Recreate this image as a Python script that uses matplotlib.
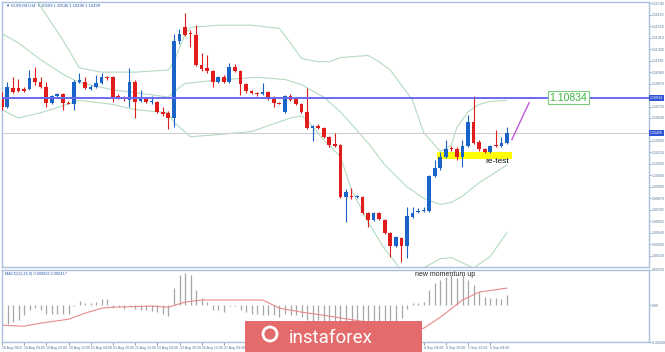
import matplotlib
matplotlib.use("Agg")
import matplotlib.pyplot as plt
import matplotlib.transforms as mtransforms
from matplotlib.patches import Rectangle, Circle

plt.rcParams['font.family'] = ['Liberation Sans', 'DejaVu Sans']

# EURUSD H4 candles, 16 Aug 12:00 .. 6 Sep 16:00
opens = [1.1084, 1.1075, 1.1093, 1.1093, 1.1092, 1.1092, 1.1102, 1.1099, 1.1094, 1.1078,
         1.1085, 1.1087, 1.1078, 1.1077, 1.1099, 1.1099, 1.1092, 1.1094, 1.1098, 1.1103,
         1.1103, 1.1085, 1.1084, 1.1081, 1.1099, 1.1080, 1.1082, 1.1079, 1.1079, 1.1070,
         1.1069, 1.1064, 1.1138, 1.1151, 1.1146, 1.1144, 1.1115, 1.1112, 1.1109, 1.1099,
         1.1103, 1.1099, 1.1113, 1.1109, 1.1097, 1.1090, 1.1088, 1.1087, 1.1089, 1.1082,
         1.1078, 1.1070, 1.1085, 1.1082, 1.1077, 1.1070, 1.1054, 1.1056, 1.1054, 1.1046,
         1.1039, 1.1038, 1.0988, 1.0989, 1.0988, 1.0988, 1.0973, 1.0966, 1.0973, 1.0966,
         1.0954, 1.0941, 1.0949, 1.0941, 1.0969, 1.0974, 1.0975, 1.0975, 1.1008, 1.1016,
         1.1027, 1.1035, 1.1034, 1.1027, 1.1037, 1.1060, 1.1041, 1.1034, 1.1031, 1.1038,
         1.1037, 1.1040]
highs = [1.1089, 1.1099, 1.1103, 1.1101, 1.1094, 1.1110, 1.1113, 1.1103, 1.1099, 1.1086,
         1.1088, 1.1088, 1.1080, 1.1100, 1.1107, 1.1103, 1.1096, 1.1105, 1.1107, 1.1104,
         1.1104, 1.1087, 1.1085, 1.1112, 1.1100, 1.1091, 1.1083, 1.1085, 1.1080, 1.1075,
         1.1071, 1.1145, 1.1149, 1.1165, 1.1148, 1.1153, 1.1126, 1.1124, 1.1110, 1.1104,
         1.1105, 1.1117, 1.1116, 1.1110, 1.1098, 1.1091, 1.1089, 1.1098, 1.1090, 1.1085,
         1.1079, 1.1086, 1.1087, 1.1083, 1.1078, 1.1093, 1.1057, 1.1058, 1.1055, 1.1047,
         1.1050, 1.1039, 1.0996, 1.0997, 1.0990, 1.0989, 1.0974, 1.0974, 1.0974, 1.0967,
         1.0955, 1.0951, 1.0950, 1.0979, 1.0979, 1.0978, 1.0979, 1.1009, 1.1024, 1.1031,
         1.1043, 1.1037, 1.1036, 1.1043, 1.1067, 1.1085, 1.1043, 1.1035, 1.1038, 1.1052,
         1.1046, 1.1055]
lows = [1.1072, 1.1074, 1.1088, 1.1089, 1.1089, 1.1091, 1.1096, 1.1093, 1.1075, 1.1077,
        1.1084, 1.1072, 1.1077, 1.1072, 1.1098, 1.1092, 1.1091, 1.1093, 1.1097, 1.1100,
        1.1079, 1.1082, 1.1080, 1.1075, 1.1064, 1.1079, 1.1078, 1.1077, 1.1069, 1.1066,
        1.1053, 1.1055, 1.1135, 1.1143, 1.1132, 1.1114, 1.1109, 1.1107, 1.1094, 1.1098,
        1.1098, 1.1098, 1.1108, 1.1086, 1.1088, 1.1087, 1.1085, 1.1086, 1.1081, 1.1075,
        1.1077, 1.1069, 1.1080, 1.1076, 1.1069, 1.1053, 1.1042, 1.1053, 1.1045, 1.1036,
        1.1036, 1.0987, 1.0964, 1.0986, 1.0987, 1.0972, 1.0959, 1.0965, 1.0966, 1.0953,
        1.0931, 1.0940, 1.0926, 1.0930, 1.0968, 1.0973, 1.0974, 1.0974, 1.1007, 1.1014,
        1.1026, 1.1032, 1.1024, 1.1017, 1.1036, 1.1039, 1.1032, 1.1030, 1.1030, 1.1036,
        1.1036, 1.1039]
closes = [1.1075, 1.1094, 1.1089, 1.1090, 1.1090, 1.1102, 1.1099, 1.1094, 1.1078, 1.1085,
          1.1087, 1.1078, 1.1077, 1.1099, 1.1100, 1.1093, 1.1094, 1.1098, 1.1103, 1.1102,
          1.1083, 1.1084, 1.1082, 1.1099, 1.1079, 1.1082, 1.1079, 1.1080, 1.1070, 1.1068,
          1.1064, 1.1138, 1.1145, 1.1144, 1.1145, 1.1115, 1.1111, 1.1109, 1.1099, 1.1103,
          1.1099, 1.1113, 1.1109, 1.1097, 1.1090, 1.1088, 1.1087, 1.1089, 1.1082, 1.1078,
          1.1077, 1.1085, 1.1081, 1.1077, 1.1070, 1.1054, 1.1056, 1.1054, 1.1046, 1.1038,
          1.1037, 1.0988, 1.0993, 1.0988, 1.0989, 1.0973, 1.0966, 1.0973, 1.0967, 1.0954,
          1.0941, 1.0950, 1.0941, 1.0970, 1.0973, 1.0975, 1.0976, 1.1008, 1.1016, 1.1027,
          1.1034, 1.1034, 1.1027, 1.1037, 1.1060, 1.1040, 1.1034, 1.1031, 1.1037, 1.1037,
          1.1040, 1.1050]

# Bollinger bands
upper_idx = [0, 3, 6, 8, 11, 14, 18, 24, 30, 31, 33, 34, 39, 45, 50, 52, 54, 57, 59, 61,
             66, 68, 70, 74, 76, 79, 81, 82, 84, 86, 88, 91]
upper_val = [1.1212, 1.1192, 1.1179, 1.1163, 1.1139, 1.1112, 1.1108, 1.1108, 1.1110, 1.1118,
             1.1144, 1.1151, 1.1153, 1.1153, 1.1150, 1.1136, 1.1121, 1.1118, 1.1118, 1.1122,
             1.1124, 1.1118, 1.1110, 1.1081, 1.1050, 1.1032, 1.1038, 1.1055, 1.1070, 1.1077,
             1.1080, 1.1081]
mid_idx = [0, 3, 7, 11, 14, 20, 26, 30, 31, 33, 38, 46, 51, 54, 58, 61, 66, 69, 73, 76,
           79, 81, 83, 86, 89, 91]
mid_val = [1.1145, 1.1136, 1.1120, 1.1106, 1.1098, 1.1091, 1.1087, 1.1084, 1.1089, 1.1097,
           1.1100, 1.1103, 1.1101, 1.1096, 1.1084, 1.1070, 1.1040, 1.1019, 1.0998, 1.0987,
           1.0981, 1.0983, 1.0989, 1.1002, 1.1012, 1.1019]
lower_idx = [0, 3, 7, 10, 14, 20, 24, 30, 31, 34, 39, 45, 52, 54, 55, 58, 61, 63, 66, 69,
             71, 73, 75, 76, 79, 81, 83, 85, 88, 91]
lower_val = [1.1072, 1.1064, 1.1069, 1.1074, 1.1081, 1.1077, 1.1072, 1.1069, 1.1060, 1.1046,
             1.1048, 1.1051, 1.1064, 1.1066, 1.1062, 1.1043, 1.1027, 1.0995, 1.0964, 1.0938,
             1.0925, 1.0908, 1.0913, 1.0920, 1.0929, 1.0930, 1.0925, 1.0920, 1.0931, 1.0954]

# MACD(12,26,9)
macd_hist = [-0.00158, -0.00134, -0.00122, -0.00110, -0.00073, -0.00037, -0.00024, -0.00037,
             -0.00066, -0.00066, -0.00061, -0.00066, -0.00061, -0.00007, 0.00031, 0.00017,
             0.00017, 0.00024, 0.00042, 0.00042, -0.00022, -0.00015, -0.00029, -0.00007,
             -0.00029, -0.00037, -0.00037, -0.00044, -0.00051, -0.00066, -0.00080, 0.00122,
             0.00219, 0.00234, 0.00219, 0.00110, 0.00049, 0.00024, -0.00037, -0.00037,
             -0.00049, -0.00007, -0.00005, -0.00037, -0.00049, -0.00061, -0.00066, -0.00073,
             -0.00073, -0.00073, -0.00085, -0.00061, -0.00073, -0.00073, -0.00085, -0.00110,
             -0.00122, -0.00110, -0.00122, -0.00134, -0.00140, -0.00160, -0.00175, -0.00180,
             -0.00180, -0.00185, -0.00185, -0.00180, -0.00175, -0.00170, -0.00160, -0.00130,
             -0.00090, -0.00031, 0.00012, 0.00017, 0.00024, 0.00110, 0.00161, 0.00183,
             0.00204, 0.00219, 0.00195, 0.00219, 0.00183, 0.00146, 0.00097, 0.00056,
             0.00049, 0.00049, 0.00042, 0.00073]
signal_idx = [0, 4, 7, 12, 15, 18, 20, 27, 30, 33, 36, 47, 50, 54, 59, 67, 70, 74, 76, 79,
              83, 86, 91]
signal_val = [-0.00146, -0.00153, -0.00131, -0.00102, -0.00058, -0.00022, -0.00015, -0.00007,
              -0.00015, 0.00022, 0.00037, 0.00037, -0.00022, -0.00051, -0.00080, -0.00131,
              -0.00168, -0.00183, -0.00168, -0.00088, 0.00037, 0.00095, 0.00124]

time_labels = ["16 Aug 2019", "19 Aug 04:00", "19 Aug 20:00", "20 Aug 12:00", "21 Aug 04:00",
               "21 Aug 20:00", "22 Aug 12:00", "23 Aug 04:00", "23 Aug 20:00", "26 Aug 12:00",
               "27 Aug 04:00", "27 Aug 20:00", "28 Aug 12:00", "29 Aug 04:00", "29 Aug 20:00",
               "30 Aug 12:00", "2 Sep 04:00", "2 Sep 20:00", "3 Sep 12:00", "4 Sep 04:00",
               "4 Sep 20:00", "5 Sep 12:00", "6 Sep 04:00"]
price_ticks = [1.1174, 1.1163, 1.1152, 1.1141, 1.1130, 1.1119, 1.1108, 1.1097, 1.1075,
               1.1064, 1.1042, 1.1031, 1.1020, 1.1009, 1.0998, 1.0987, 1.0976, 1.0965,
               1.0954, 1.0943, 1.0932]
level = 1.10834
last_price = 1.10499
zone = (1.1025, 1.1031)
macd_text = "MACD(12,26,9) 0.000822 0.000417"
title_text = "\u25bc EURUSD,H4  1.10509 1.10540 1.10490 1.10499"

frame = '#a9c1dd'
axis_txt = '#55779d'
blue = '#1a64c8'
red = '#e01c1c'
band = '#b3dbbf'
small = 2.5

fig = plt.figure(figsize=(6.65, 3.52), dpi=100)
ax = fig.add_axes([2/665, 1 - 267/352, 647/665, 265/352])
ax2 = fig.add_axes([2/665, 1 - 342/352, 647/665, 72.5/352])

x = list(range(len(opens)))
cols = [blue if c >= o else red for o, c in zip(opens, closes)]
bottoms = [min(o, c) for o, c in zip(opens, closes)]
heights = [max(abs(c - o), 0.00008) for o, c in zip(opens, closes)]

ax.plot(upper_idx, upper_val, color=band, lw=0.8, zorder=1)
ax.plot(mid_idx, mid_val, color=band, lw=0.8, zorder=1)
ax.plot(lower_idx, lower_val, color=band, lw=0.8, zorder=1)
ax.axhline(last_price, color='#d0d0d0', lw=0.8, zorder=1)
ax.add_patch(Rectangle((78.4, zone[0]), 13.5, zone[1] - zone[0], color='#ffff00', lw=0, zorder=2))
ax.vlines(x, lows, highs, colors=cols, lw=0.8, zorder=3)
ax.bar(x, heights, 0.66, bottom=bottoms, color=cols, lw=0, zorder=4)
ax.axhline(level, color='#6a6af0', lw=1.4, zorder=5)
ax.plot([91.9, 95.0], [1.10433, 1.10787], color='#c05ad8', lw=1.0, zorder=5)

ax.text(102.1, level, '1.10834', fontsize=7.5, color='#3cb43c', ha='center', va='center',
        zorder=6, bbox=dict(boxstyle='square,pad=0.15', fc='white', ec='#7ccb7c', lw=0.8))
ax.text(89.2, 1.10222, 're-test', fontsize=6, color='#111111', ha='center', va='center', zorder=6)
ax.text(0.006, 0.993, title_text, transform=ax.transAxes, fontsize=3, color='#2a5caa',
        ha='left', va='top')

ax.set_xlim(0.05, 116.6)
ax.set_ylim(1.0921, 1.11753)
ax.set_xticks([])
ax.yaxis.tick_right()
ax.set_yticks(price_ticks)
ax.set_yticklabels([f'{t:.5f}' for t in price_ticks])
ax.tick_params(axis='y', labelsize=small, colors=axis_txt, length=1.5, width=0.5, pad=0.6)

trans = mtransforms.blended_transform_factory(ax.transAxes, ax.transData)
for val, txt in [(level, '1.10834'), (last_price, '1.10499')]:
    ax.text(1.0012, val, txt, transform=trans, fontsize=small, color='white', ha='left',
            va='center', clip_on=False,
            bbox=dict(boxstyle='square,pad=0.3', fc='#2f55d4', ec='none'))

# MACD panel
ax2.vlines(x, 0, macd_hist, colors='#a6a6a6', lw=0.9)
ax2.plot(signal_idx, signal_val, color='#e88a8a', lw=0.8)
ax2.text(0.004, 0.96, macd_text, transform=ax2.transAxes, fontsize=2.8, color='#2a5caa',
         ha='left', va='top')
ax2.text(79.9, 0.00222, 'new momentum up', fontsize=5, color='#222222', ha='center', va='center')
ax2.set_xlim(0.05, 116.6)
ax2.set_ylim(-0.00268, 0.00259)
ax2.yaxis.tick_right()
ax2.set_yticks([0.00259, 0.0, -0.00268])
ax2.set_yticklabels(['0.00259', '0.00', '-0.00268'])
ax2.tick_params(axis='y', labelsize=small, colors=axis_txt, length=1.5, width=0.5, pad=0.6)
ax2.set_xticks(list(range(0, 89, 4)))
ax2.set_xticklabels(time_labels, ha='left')
ax2.tick_params(axis='x', labelsize=small, colors=axis_txt, length=2, width=0.5, pad=1)

for a in (ax, ax2):
    for s in a.spines.values():
        s.set_color(frame)
        s.set_linewidth(1.0)

# instaforex logo
ov = fig.add_axes([0, 0, 1, 1], zorder=10)
ov.set_xlim(0, 665)
ov.set_ylim(352, 0)
ov.axis('off')
ov.add_patch(Rectangle((245, 321), 177, 31, color='#e46b6b', lw=0))
ov.add_patch(Circle((270, 334), 7, fill=False, ec='white', lw=2))
ov.text(289, 343, 'instaforex', color='white', fontsize=13.5, family='Roboto',
        ha='left', va='baseline')

fig.savefig('out.png', dpi=100)
